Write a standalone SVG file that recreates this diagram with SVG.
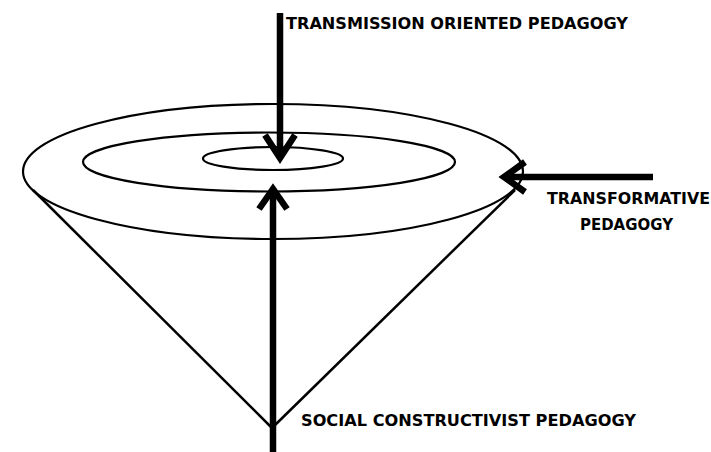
<svg xmlns="http://www.w3.org/2000/svg" width="711" height="452" viewBox="0 0 711 452">
  <style>
    .ring { fill: none; stroke: #000; stroke-width: 2.2; }
    .side { fill: none; stroke: #000; stroke-width: 2.5; }
    .shaft { fill: none; stroke: #000; stroke-width: 6.5; }
    .head { fill: none; stroke: #000; stroke-width: 6.5; stroke-linejoin: miter; }
    .lbl { font-family: "DejaVu Sans", "Liberation Sans", sans-serif; font-weight: bold; font-size: 15px; fill: #000; }
  </style>
  <rect width="711" height="452" fill="#fff"/>

  <!-- cone -->
  <g id="cone">
    <line class="side" x1="33" y1="190" x2="272" y2="428"/>
    <line class="side" x1="515" y1="190" x2="272" y2="428"/>
    <ellipse class="ring" cx="273" cy="171.5" rx="250" ry="67.5"/>
    <ellipse class="ring" cx="269" cy="162" rx="186" ry="29.5"/>
    <ellipse class="ring" cx="273" cy="158.5" rx="70" ry="11.5"/>
  </g>

  <!-- arrows -->
  <g id="connectors">
    <line class="shaft" x1="280" y1="13" x2="280" y2="156"/>
    <polyline class="head" points="265,135 280,158 295,135"/>
    <line class="shaft" x1="273" y1="452" x2="273" y2="192"/>
    <polyline class="head" points="259,209 273,189 287,209"/>
    <line class="shaft" x1="653" y1="177" x2="506" y2="177"/>
    <polyline class="head" points="525,162 504,177 525,192"/>
  </g>

  <g id="transmission">
    <text class="lbl" x="286" y="29" textLength="342" lengthAdjust="spacingAndGlyphs">TRANSMISSION ORIENTED PEDAGOGY</text>
  </g>
  <g id="transformative">
    <text class="lbl" x="547" y="204" textLength="163" lengthAdjust="spacingAndGlyphs">TRANSFORMATIVE</text>
    <text class="lbl" x="580" y="230" textLength="93" lengthAdjust="spacingAndGlyphs">PEDAGOGY</text>
  </g>
  <g id="social">
    <text class="lbl" x="301" y="426" textLength="335" lengthAdjust="spacingAndGlyphs">SOCIAL CONSTRUCTIVIST PEDAGOGY</text>
  </g>
</svg>
